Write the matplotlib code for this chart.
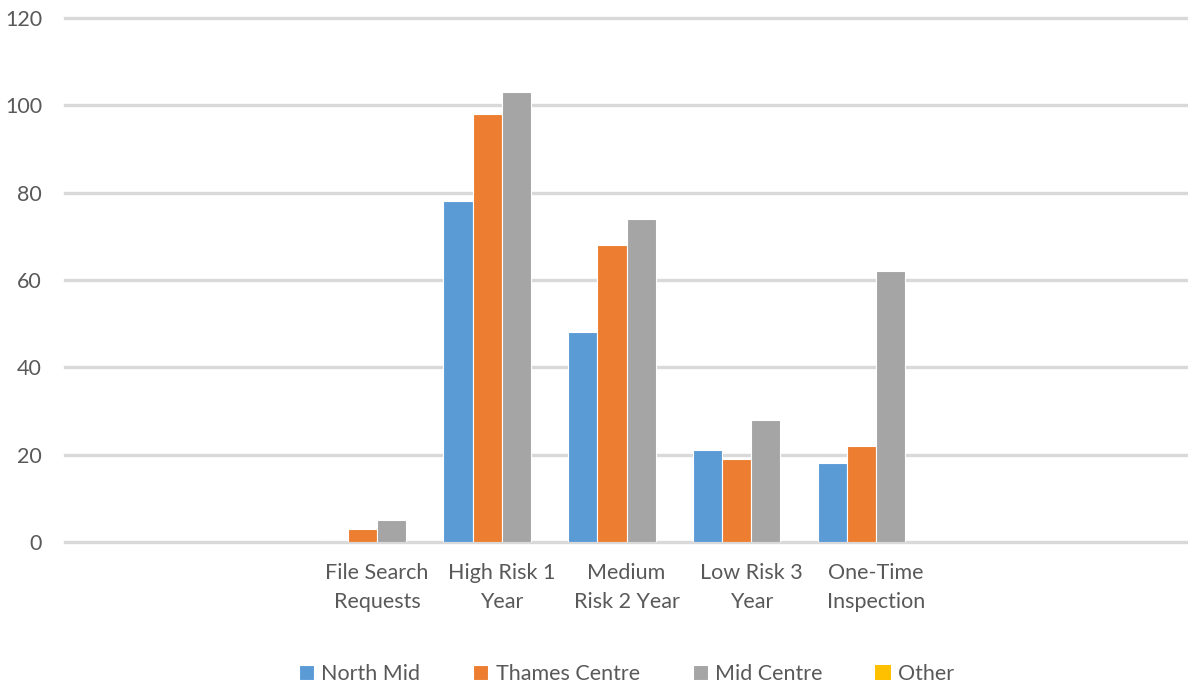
import matplotlib
matplotlib.use("Agg")
import matplotlib.pyplot as plt
import numpy as np

plt.rcParams['font.family'] = ['Lato', 'DejaVu Sans']

categories = ["File Search\nRequests", "High Risk 1\nYear", "Medium\nRisk 2 Year",
              "Low Risk 3\nYear", "One-Time\nInspection"]
north_mid = [0, 78, 48, 21, 18]
thames_centre = [3, 98, 68, 19, 22]
mid_centre = [5, 103, 74, 28, 62]
other = [0, 0, 0, 0, 0]

series = [
    ("North Mid", north_mid, "#5B9BD5"),
    ("Thames Centre", thames_centre, "#ED7D31"),
    ("Mid Centre", mid_centre, "#A5A5A5"),
    ("Other", other, "#FFC000"),
]

text_color = "#595959"
grid_color = "#D9D9D9"
fs = 15.5

fig = plt.figure(figsize=(11.88, 6.84), dpi=100)
ax = fig.add_axes([65 / 1188, 142 / 684, 1123 / 1188, 524 / 684])

x = np.arange(len(categories))
width = 0.234
for i, (name, vals, color) in enumerate(series):
    offs = (i - 1.5) * width
    lw = 0.8 if any(v > 0 for v in vals) else 0
    ax.bar(x + offs, vals, width, color=color, edgecolor="white",
           linewidth=lw, label=name, zorder=3)

# two empty category slots on each side of the plotted groups
ax.set_xlim(-2.5, len(categories) + 1.5)
ax.set_ylim(0, 120)
ax.set_yticks(np.arange(0, 121, 20))
ax.set_xticks(x)
ax.set_xticklabels(categories, fontsize=fs, color=text_color, linespacing=1.55)
ax.tick_params(axis="y", labelsize=fs, labelcolor=text_color, length=0, pad=16.5)
ax.tick_params(axis="x", length=0, pad=15)

ax.yaxis.grid(True, color=grid_color, linewidth=2.4)
for gl in ax.get_ygridlines():
    gl.set_clip_on(False)
ax.set_axisbelow(True)
for s in ax.spines.values():
    s.set_visible(False)

leg = ax.legend(loc="center", bbox_to_anchor=(0.5, -0.252), ncol=4, frameon=False,
                fontsize=fs, handlelength=0.7, handleheight=0.7,
                handletextpad=0.35, columnspacing=2.45)
for t in leg.get_texts():
    t.set_color(text_color)

fig.savefig("out.png", dpi=100)
